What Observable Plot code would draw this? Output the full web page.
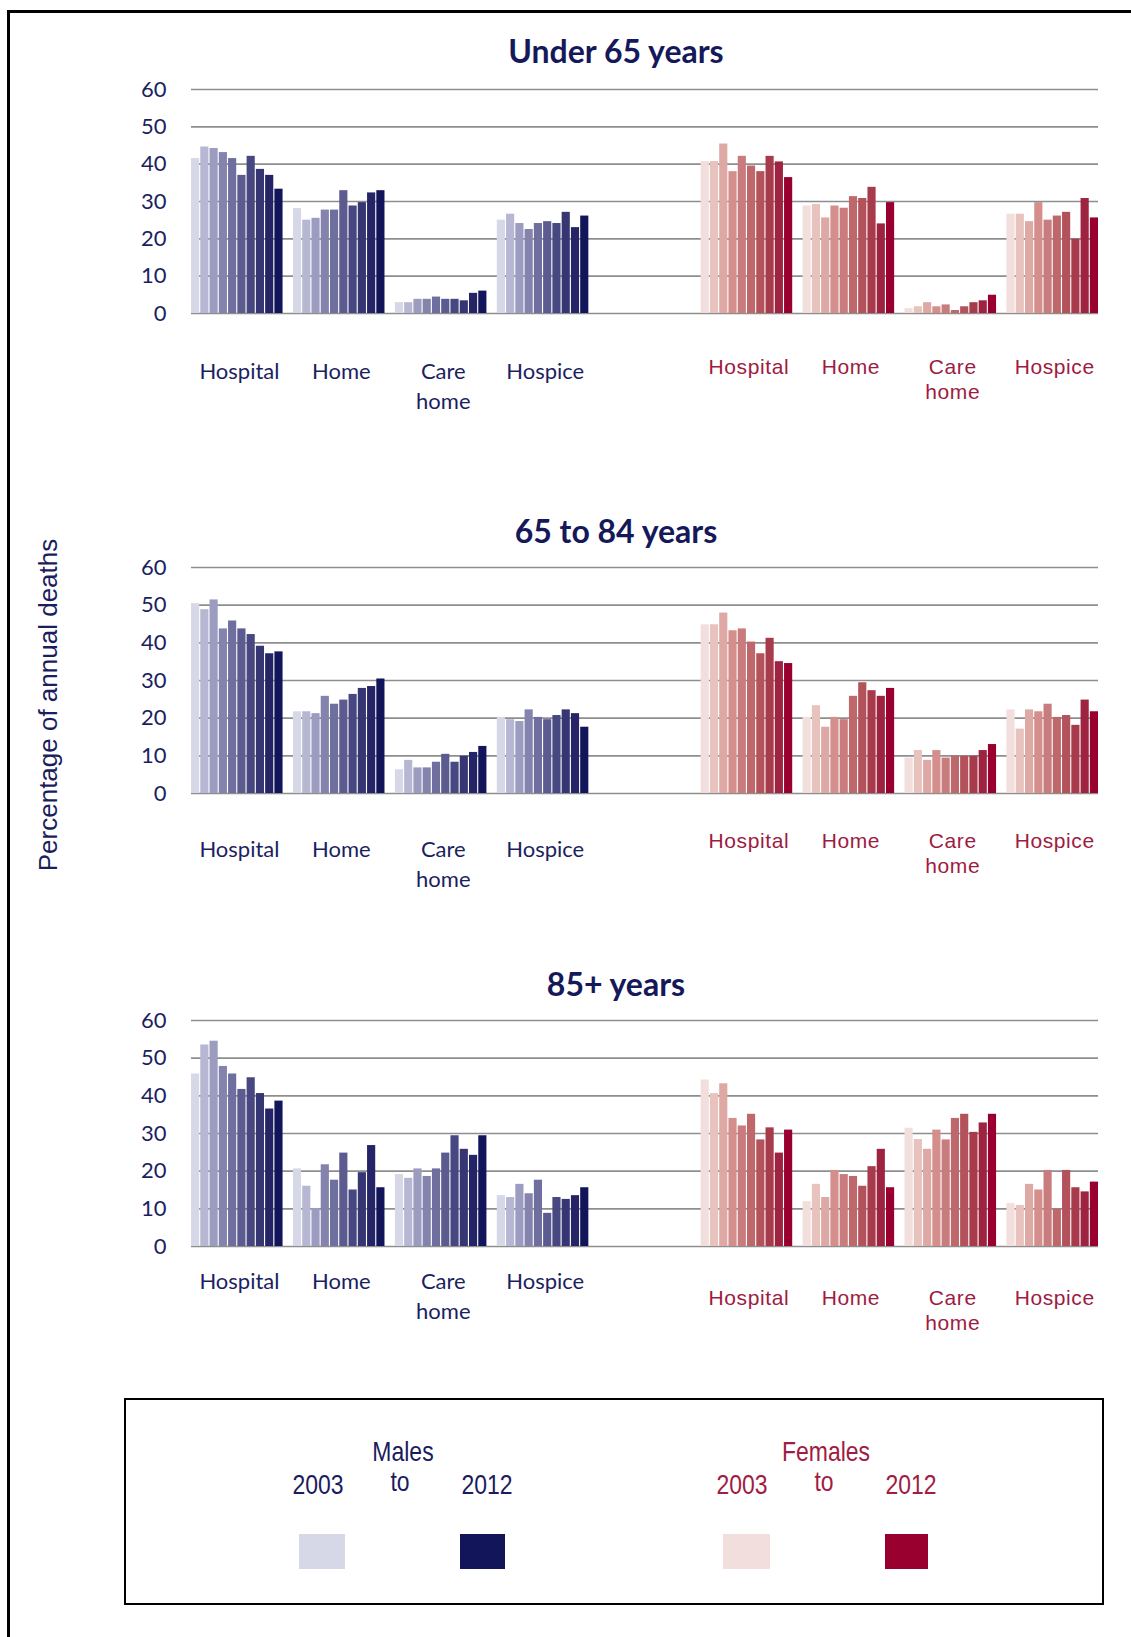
<!DOCTYPE html>
<html>
<head>
<meta charset="utf-8">
<script src="https://cdn.jsdelivr.net/npm/d3@7"></script>
<script src="https://cdn.jsdelivr.net/npm/@observablehq/plot@0.6"></script>
<style>
  body { margin: 0; background: #fff; }
  #page { position: relative; width: 1131px; height: 1637px; overflow: hidden; background: #fff; }
  .frame-top { position: absolute; left: 7px; top: 10px; right: 0; border-top: 3px solid #000; }
  .frame-left { position: absolute; left: 7px; top: 10px; bottom: 0; border-left: 3px solid #000; }
  .panel { position: absolute; left: 0; }
  .panel svg { overflow: visible; }
  .title { position: absolute; font-family: Lato, sans-serif; font-weight: bold; font-size: 32px;
           color: #15195a; line-height: 1; white-space: nowrap; transform: translateX(-50%); }
  .ylabel { position: absolute; font-family: "Liberation Sans", Arial, sans-serif; font-size: 26px;
            color: #1a1d5e; line-height: 1; white-space: nowrap;
            transform: translate(-50%, -50%) rotate(-90deg); }
  .legend { position: absolute; left: 124px; top: 1398px; width: 976px; height: 203px; border: 2px solid #000; }
  .lg { position: absolute; font-family: "Liberation Sans", Arial, sans-serif; font-size: 28px; line-height: 1;
        white-space: nowrap; transform-origin: center; transform: translateX(-50%) scaleX(0.82); }
  .male { color: #1a1c5e; }
  .female { color: #a01c42; }
  .swatch { position: absolute; }
  g[aria-description="female place labels"] text { letter-spacing: 0.6px; }
</style>
</head>
<body>
<div id="page">
  <div class="frame-top"></div>
  <div class="frame-left"></div>
</div>
<script>
// Years shown in each cluster, oldest to newest
const years = [2003, 2004, 2005, 2006, 2007, 2008, 2009, 2010, 2011, 2012];
const places = ["Hospital", "Home", "Care home", "Hospice"];
const placeLabels = ["Hospital", "Home", "Care\nhome", "Hospice"];
const ageGroups = ["Under 65 years", "65 to 84 years", "85+ years"];
const yTicks = [0, 10, 20, 30, 40, 50, 60];

// Percentage of annual deaths by place of death, rows follow `places`, columns follow `years`
const under65Males = [
  [41.5, 44.6, 44.2, 43.1, 41.5, 37.0, 42.1, 38.6, 37.0, 33.3],
  [28.1, 25.0, 25.5, 27.7, 27.7, 32.9, 28.8, 29.7, 32.3, 32.9],
  [2.9, 2.9, 3.8, 3.8, 4.4, 3.8, 3.8, 3.4, 5.4, 6.0],
  [25.0, 26.6, 24.1, 22.5, 24.1, 24.6, 24.1, 27.1, 23.0, 26.1]
];
const under65Females = [
  [40.7, 40.7, 45.4, 38.0, 42.1, 39.5, 38.0, 42.1, 40.6, 36.4],
  [28.8, 29.2, 25.6, 28.8, 28.2, 31.3, 30.8, 33.8, 24.0, 29.7],
  [1.3, 1.8, 2.9, 1.8, 2.3, 0.8, 1.8, 2.9, 3.4, 4.9],
  [26.6, 26.6, 24.6, 29.7, 25.0, 26.1, 27.1, 19.9, 30.8, 25.6]
];
const age65to84Males = [
  [50.4, 48.8, 51.4, 43.7, 45.8, 43.7, 42.2, 39.1, 37.1, 37.6],
  [21.7, 21.7, 21.2, 25.8, 23.7, 24.8, 26.3, 27.9, 28.4, 30.4],
  [6.3, 8.8, 6.8, 6.8, 8.3, 10.4, 8.3, 9.9, 10.9, 12.5],
  [20.2, 19.6, 19.1, 22.2, 20.2, 19.6, 20.7, 22.2, 21.2, 17.6]
];
const age65to84Females = [
  [44.8, 44.8, 47.9, 43.2, 43.7, 40.2, 37.1, 41.2, 35.0, 34.5],
  [20.2, 23.3, 17.6, 20.2, 19.6, 25.8, 29.4, 27.3, 25.8, 27.9],
  [9.4, 11.4, 8.8, 11.4, 9.4, 9.9, 9.9, 9.9, 11.4, 13.0],
  [22.2, 17.1, 22.2, 21.7, 23.7, 20.2, 20.7, 18.1, 24.8, 21.7]
];
const age85plusMales = [
  [45.8, 53.5, 54.5, 47.8, 45.8, 41.7, 44.8, 40.6, 36.5, 38.6],
  [20.6, 16.0, 10.1, 21.7, 17.6, 24.8, 15.0, 19.6, 26.8, 15.6],
  [19.1, 18.1, 20.6, 18.6, 20.6, 24.8, 29.4, 25.8, 24.2, 29.4],
  [13.5, 13.0, 16.5, 14.0, 17.6, 8.8, 13.0, 12.5, 13.5, 15.6]
];
const age85plusFemales = [
  [44.2, 40.6, 43.2, 34.0, 32.0, 35.1, 28.3, 31.5, 24.8, 30.9],
  [11.9, 16.5, 13.0, 20.2, 19.1, 18.6, 16.0, 21.2, 25.8, 15.6],
  [31.4, 28.4, 25.8, 30.9, 28.3, 34.0, 35.1, 30.3, 32.8, 35.1],
  [11.4, 10.9, 16.5, 15.0, 20.2, 9.9, 20.2, 15.6, 14.5, 17.1]
];

// Shades per year, light (2003) to dark (2012)
const maleShades = ["#d6d8e7", "#b7b7d3", "#9c9cc0", "#8383ae", "#6e6e9f",
                    "#5b5b90", "#474781", "#363672", "#242466", "#13155a"];
const femaleShades = ["#f2dfdd", "#e8c2bd", "#dea9a4", "#d48f8c", "#c97c7d",
                      "#be686b", "#b3525b", "#a83b4b", "#9e2340", "#990030"];

const maleText = "#1c1f5f";
const femaleText = "#9e1b42";

// Layout of each panel: y of the 60 gridline, plot height, title centre, label offsets
const layout = [
  {top: 89.3, h: 224, titleY: 51, maleDy: 44, femaleDy: 43},
  {top: 566.7, h: 226, titleY: 531, maleDy: 42, femaleDy: 37},
  {top: 1020.3, h: 226, titleY: 984, maleDy: 21, femaleDy: 41}
];
const tables = [
  [under65Males, under65Females],
  [age65to84Males, age65to84Females],
  [age85plusMales, age85plusFemales]
];

// Band domain: ten year bands per cluster, a gap band between clusters,
// and an empty cluster separating males from females
const slots = [...places.map(p => "Males " + p), "spacer", ...places.map(p => "Females " + p)];
const xDomain = slots.flatMap((s, i) => [
  ...years.map(y => s + "|" + y),
  ...(i < slots.length - 1 ? ["gap|" + i] : [])
]);
const midYear = years[4];

function rows(sex, table) {
  return table.flatMap((vals, i) =>
    vals.map((v, j) => ({key: sex + " " + places[i] + "|" + years[j], value: v, shade: j})));
}

const page = document.getElementById("page");
const mTop = 10, mBottom = 110;

layout.forEach((L, k) => {
  const [mt, ft] = tables[k];
  const chart = Plot.plot({
    width: 1131,
    height: mTop + L.h + mBottom,
    marginTop: mTop,
    marginBottom: mBottom,
    marginLeft: 191,
    marginRight: 33,
    style: {background: "transparent", overflow: "visible"},
    x: {type: "band", domain: xDomain, paddingInner: 0.12, paddingOuter: 0, round: false, axis: null},
    y: {domain: [0, 60], axis: null},
    color: {type: "identity"},
    marks: [
      Plot.ruleY(yTicks, {stroke: "#8e8e8e", strokeWidth: 1.7}),
      Plot.text(yTicks, {y: d => d, text: d => String(d), frameAnchor: "left",
        textAnchor: "end", dx: -25, fontFamily: "Lato", fontSize: 22, fill: maleText}),
      Plot.barY(rows("Males", mt), {x: "key", y: "value", fill: d => maleShades[d.shade]}),
      Plot.barY(rows("Females", ft), {x: "key", y: "value", fill: d => femaleShades[d.shade]}),
      Plot.text(places, {x: d => "Males " + d + "|" + midYear, text: (d, i) => placeLabels[i],
        frameAnchor: "bottom", lineAnchor: "top", dx: 6.8, dy: L.maleDy, lineHeight: 1.36,
        fontFamily: "Lato", fontSize: 22, fill: maleText}),
      Plot.text(places, {x: d => "Females " + d + "|" + midYear, text: (d, i) => placeLabels[i],
        frameAnchor: "bottom", lineAnchor: "top", dx: 6.6, dy: L.femaleDy, lineHeight: 1.17,
        fontFamily: "Liberation Sans", fontSize: 21, fill: femaleText,
        ariaDescription: "female place labels"})
    ]
  });
  const holder = document.createElement("div");
  holder.className = "panel";
  holder.style.top = (L.top - mTop) + "px";
  holder.appendChild(chart);
  page.appendChild(holder);

  const t = document.createElement("div");
  t.className = "title";
  t.textContent = ageGroups[k];
  t.style.left = "616px";
  t.style.top = (L.titleY - 16) + "px";
  page.appendChild(t);
});

// Shared y-axis label
const yl = document.createElement("div");
yl.className = "ylabel";
yl.textContent = "Percentage of annual deaths";
yl.style.left = "48px";
yl.style.top = "705px";
page.appendChild(yl);

// Legend box
const legend = document.createElement("div");
legend.className = "legend";
page.appendChild(legend);
function lgText(txt, cls, cx, baseline) {
  const d = document.createElement("div");
  d.className = "lg " + cls;
  d.textContent = txt;
  d.style.left = cx + "px";
  d.style.top = (baseline - 23.7) + "px";
  page.appendChild(d);
}
function swatch(color, x0, x1) {
  const s = document.createElement("div");
  s.className = "swatch";
  s.style.left = x0 + "px";
  s.style.width = (x1 - x0) + "px";
  s.style.top = "1534px";
  s.style.height = "35px";
  s.style.background = color;
  page.appendChild(s);
}
lgText("Males", "male", 403, 1462);
lgText(String(years[0]), "male", 318, 1495);
lgText("to", "male", 400, 1492);
lgText(String(years[years.length - 1]), "male", 487, 1495);
lgText("Females", "female", 826, 1462);
lgText(String(years[0]), "female", 742, 1495);
lgText("to", "female", 824, 1492);
lgText(String(years[years.length - 1]), "female", 911, 1495);
swatch(maleShades[0], 299, 345);
swatch(maleShades[9], 460, 505);
swatch(femaleShades[0], 723, 770);
swatch(femaleShades[9], 885, 928);
</script>
</body>
</html>
